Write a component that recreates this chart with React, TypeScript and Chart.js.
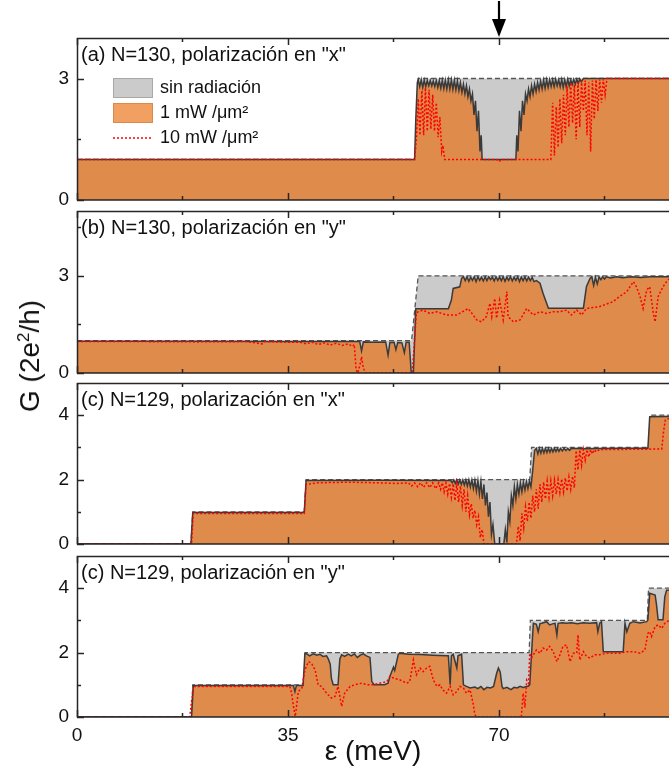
import React, { useEffect, useRef } from 'react';
import { Chart, registerables } from 'chart.js';
Chart.register(...registerables);

type Pt = [number, number];

// ---------------- data ----------------
const X_MAX = 98.2;
const xTickLabels = [0, 35, 70];
const xMajorTicks = [0, 35, 70];
const xMinorTicks = [17.5, 52.5, 87.5];
const xTitle = 'ε (meV)';
const seriesLabels = ['sin radiación', '1 mW /μm²', '10 mW /μm²'];
const panelTitles = [
  '(a) N=130, polarización en "x"',
  '(b) N=130, polarización en "y"',
  '(c) N=129, polarización en "x"',
  '(c) N=129, polarización en "y"',
];
const arrowAt = 70;

const yMaxA = 4, yMaxB = 5, yMaxC = 5, yMaxD = 5;
const yMajorA = [0, 3], yMinorA = [1.5];
const yMajorB = [0, 3], yMinorB = [1.5, 4.5];
const yMajorC = [0, 2, 4], yMinorC = [1, 3];
const yMajorD = [0, 2, 4], yMinorD = [1, 3];

// panel (a)
const aNoRad: Pt[] = [[0, 1], [56.1, 1], [56.6, 3], [98.2, 3]];
const aOneMW: Pt[] = [
  [0, 1], [56.0, 1], [56.2, 2.0], [56.45, 2.9],
  [56.6, 2.97], [56.85, 2.8], [57.1, 2.97], [57.35, 2.78], [57.6, 2.96], [57.85, 2.8], [58.1, 2.95], [58.35, 2.82],
  [58.6, 2.95], [58.85, 2.82], [59.1, 2.94], [59.35, 2.8], [59.6, 2.95], [59.85, 2.78], [60.1, 2.95], [60.35, 2.76],
  [60.6, 2.96], [60.85, 2.75], [61.1, 2.96], [61.35, 2.74], [61.6, 2.97], [61.85, 2.74], [62.1, 2.97], [62.35, 2.73],
  [62.6, 2.96], [62.85, 2.72], [63.1, 2.94], [63.35, 2.7], [63.6, 2.9], [63.85, 2.66],
  [64.1, 2.86], [64.35, 2.62], [64.6, 2.82], [64.85, 2.55], [65.1, 2.74], [65.35, 2.45], [65.6, 2.62], [65.85, 2.1],
  [66.1, 2.45], [66.35, 1.7], [66.6, 2.2], [66.85, 1.2], [67.05, 1.6], [67.2, 1.0],
  [72.8, 1.0], [72.95, 1.6], [73.15, 1.2], [73.4, 2.2], [73.65, 1.7], [73.9, 2.45], [74.15, 2.1], [74.4, 2.62],
  [74.65, 2.45], [74.9, 2.74], [75.15, 2.55], [75.4, 2.82], [75.65, 2.62], [75.9, 2.86], [76.15, 2.68], [76.4, 2.9],
  [76.65, 2.72], [76.9, 2.94], [77.15, 2.74], [77.4, 2.96], [77.65, 2.76], [77.9, 2.97], [78.15, 2.78], [78.4, 2.97],
  [78.65, 2.8], [78.9, 2.97], [79.15, 2.8], [79.4, 2.98], [79.65, 2.82], [79.9, 2.97], [80.15, 2.8], [80.4, 2.98],
  [80.65, 2.78], [80.9, 2.97], [81.15, 2.8], [81.4, 2.98], [81.65, 2.82], [81.9, 2.96], [82.15, 2.85], [82.4, 2.98],
  [82.65, 2.86], [82.9, 2.98], [83.15, 2.88], [83.4, 2.99], [83.65, 2.92], [84.0, 3.0], [98.2, 3.0],
];
const aTenMW: Pt[] = [
  [0, 1], [56.0, 1], [56.3, 1.5], [56.6, 2.5], [56.9, 1.6], [57.2, 2.7], [57.5, 1.6], [57.8, 2.77], [58.1, 1.7],
  [58.4, 2.72], [58.7, 1.75], [59.0, 2.6], [59.3, 1.7], [59.6, 2.4], [59.9, 1.55], [60.2, 2.05], [60.5, 1.2],
  [60.7, 1.35], [61.0, 1.0], [69.6, 1.0], [70.0, 0.95], [70.4, 1.0], [78.6, 1.0], [78.9, 2.4], [79.2, 1.1],
  [79.5, 2.3], [79.8, 1.3], [80.1, 2.5], [80.4, 1.4], [80.7, 2.6], [81.0, 1.6], [81.3, 2.8], [81.6, 1.8],
  [81.9, 2.9], [82.2, 1.9], [82.5, 2.85], [82.8, 1.5], [83.1, 2.9], [83.4, 1.8], [83.7, 2.95], [84.0, 2.2],
  [84.3, 2.95], [84.6, 1.6], [84.9, 2.9], [85.2, 1.2], [85.5, 2.95], [85.8, 2.0], [86.1, 2.97], [86.4, 2.2],
  [86.7, 2.98], [87.0, 2.4], [87.3, 2.98], [87.6, 2.6], [87.9, 3.0], [98.2, 3.0],
];

// panel (b)
const bNoRad: Pt[] = [[0, 1], [55.5, 1], [56.6, 3], [98.2, 3]];
const bOneMW: Pt[] = [
  [0, 0.98], [20, 0.98], [35, 0.97], [46.9, 0.97], [47.2, 0.68], [47.5, 0.96], [49, 0.95], [51.2, 0.96],
  [51.6, 0.55], [51.9, 0.94], [52.6, 0.95], [52.9, 0.72], [53.2, 0.94], [53.9, 0.93], [54.3, 0.63], [54.6, 0.95],
  [55.1, 0.95], [55.45, 0.0], [55.8, 0.0], [56.2, 1.98], [61.6, 1.98], [62.1, 2.25], [62.4, 2.61], [63.5, 2.66],
  [63.8, 2.92], [64.1, 2.97], [64.4, 2.85], [64.7, 2.97], [65.0, 2.83], [65.3, 2.96], [65.6, 2.86], [65.9, 2.97],
  [66.2, 2.82], [66.5, 2.97], [66.8, 2.86], [67.1, 2.96], [67.4, 2.84], [67.7, 2.97], [68.0, 2.85], [68.3, 2.97],
  [68.6, 2.88], [68.9, 2.96], [69.2, 2.84], [69.5, 2.97], [69.8, 2.86], [70.1, 2.96], [70.4, 2.85], [70.7, 2.97],
  [71.0, 2.83], [71.3, 2.96], [71.6, 2.86], [71.9, 2.97], [72.2, 2.84], [72.5, 2.96], [72.8, 2.86], [73.1, 2.97],
  [73.4, 2.82], [73.7, 2.96], [74.0, 2.85], [74.3, 2.97], [74.6, 2.84], [74.9, 2.96], [75.2, 2.85], [75.5, 2.95],
  [75.8, 2.82], [76.2, 2.85], [76.8, 2.77], [77.3, 2.46], [78.2, 2.0], [84.0, 2.0], [84.5, 2.66], [85.1, 2.92],
  [85.4, 2.97], [85.7, 2.7], [86.0, 2.95], [86.3, 2.75], [86.6, 2.96], [86.9, 2.88], [87.2, 2.97], [87.5, 2.9],
  [87.8, 2.97], [88.5, 2.93], [89.5, 2.97], [90.5, 2.94], [92.0, 2.97], [93.5, 2.95], [95.0, 2.97], [98.2, 2.97],
];
const bTenMW: Pt[] = [
  [0, 0.97], [10, 0.97], [20, 0.96], [28, 0.97], [30.7, 0.9], [31.2, 0.97], [35, 0.95], [37.0, 0.95], [38.0, 0.9],
  [39.0, 0.95], [40.0, 0.88], [41.0, 0.93], [42.0, 0.86], [43.0, 0.92], [44.0, 0.85], [45.0, 0.9], [45.7, 0.82],
  [46.0, 0.88], [46.3, 0.1], [46.6, 0.0], [47.0, 0.3], [47.2, 0.5], [47.5, 0.15], [47.9, 0.0], [55.6, 0.0],
  [56.3, 1.85], [56.6, 1.89], [57.4, 1.94], [58.5, 1.84], [59.7, 1.89], [61.3, 1.79], [63.0, 1.79], [64.9, 1.99],
  [66.3, 1.64], [67.1, 1.58], [67.9, 1.74], [68.5, 2.15], [68.8, 1.74], [69.3, 2.3], [69.6, 1.69], [70.1, 2.25],
  [70.7, 1.64], [71.3, 2.51], [71.5, 1.74], [72.4, 1.58], [73.5, 1.64], [74.6, 1.99], [75.7, 1.79], [76.8, 1.89],
  [77.9, 1.84], [79.0, 1.89], [80.1, 1.89], [81.2, 1.94], [82.0, 1.79], [82.9, 1.94], [83.7, 1.79], [84.5, 1.99],
  [86.7, 2.05], [88.9, 2.2], [90.0, 2.36], [91.2, 2.51], [92.3, 2.82], [92.8, 2.66], [93.4, 2.36], [93.9, 1.99],
  [94.5, 2.56], [95.0, 2.66], [95.6, 1.84], [95.9, 1.58], [96.4, 2.36], [97.2, 2.66], [97.8, 2.82], [98.2, 2.9],
];

// panel (c)
const cNoRad: Pt[] = [[0, 0], [18.9, 0], [19.2, 1], [37.7, 1], [38.0, 2], [75.1, 2], [75.4, 3], [94.8, 3], [95.1, 4], [98.2, 4]];
const cOneMW: Pt[] = [
  [0, 0], [18.9, 0], [19.2, 0.98], [37.7, 0.98], [38.0, 1.97], [50, 1.98], [62.0, 1.97],
  [62.25, 1.9], [62.5, 1.99], [62.75, 1.88], [63.0, 1.99], [63.25, 1.86], [63.5, 1.99], [63.75, 1.85], [64.0, 1.99],
  [64.25, 1.83], [64.5, 1.99], [64.75, 1.8], [65.0, 1.99], [65.25, 1.77], [65.5, 1.99], [65.75, 1.72], [66.0, 1.98],
  [66.25, 1.65], [66.5, 1.97], [66.75, 1.55], [67.0, 1.94], [67.25, 1.4], [67.5, 1.85], [67.75, 1.2], [68.0, 1.6],
  [68.25, 0.85], [68.5, 1.3], [68.75, 0.3], [69.0, 0.6], [69.3, 0.0], [70.8, 0.0], [71.05, 0.45], [71.3, 0.05],
  [71.55, 1.0], [71.8, 0.7], [72.05, 1.5], [72.3, 1.2], [72.55, 1.78], [72.8, 1.4], [73.05, 1.85], [73.3, 1.55],
  [73.55, 1.9], [73.8, 1.62], [74.05, 1.92], [74.3, 1.68], [74.55, 1.94], [74.8, 1.72], [75.05, 1.95], [75.3, 1.78],
  [75.6, 2.3], [75.9, 2.9], [76.2, 2.97], [76.45, 2.8], [76.7, 2.97], [76.95, 2.82], [77.2, 2.97], [77.45, 2.83],
  [77.7, 2.97], [77.95, 2.84], [78.2, 2.97], [78.45, 2.85], [78.7, 2.97], [78.95, 2.86], [79.2, 2.97], [79.45, 2.87],
  [79.7, 2.97], [79.95, 2.88], [80.2, 2.97], [80.5, 2.89], [80.8, 2.97], [81.1, 2.9], [81.4, 2.97], [81.7, 2.91],
  [82.0, 2.97], [84.0, 2.96], [90.0, 2.97], [94.7, 2.97], [95.0, 3.95], [98.2, 3.96],
];
const cTenMW: Pt[] = [
  [0, 0], [19.0, 0], [19.3, 0.95], [37.7, 0.95], [38.0, 1.85], [40, 1.9], [45, 1.92], [50, 1.9], [53, 1.88],
  [55, 1.9], [55.5, 1.8], [56, 1.9], [56.5, 1.78], [57, 1.9], [57.5, 1.76], [58, 1.9], [58.5, 1.75], [59, 1.9],
  [59.5, 1.72], [60.0, 1.9], [60.3, 1.7], [60.6, 1.9], [60.9, 1.62], [61.2, 1.89], [61.5, 1.55], [61.8, 1.88],
  [62.1, 1.45], [62.4, 1.87], [62.7, 1.35], [63.0, 1.86], [63.3, 1.3], [63.6, 1.8], [63.9, 1.2], [64.2, 1.7],
  [64.5, 1.0], [64.8, 1.5], [65.1, 0.9], [65.4, 1.25], [65.7, 0.8], [66.0, 1.05], [66.3, 0.6], [66.6, 0.85],
  [66.9, 0.2], [67.2, 0.45], [67.5, 0.0], [72.9, 0.0], [73.2, 0.55], [73.5, 0.1], [73.8, 0.95], [74.1, 0.5],
  [74.4, 1.15], [74.7, 0.7], [75.0, 1.3], [75.3, 0.8], [75.6, 1.5], [75.9, 1.0], [76.2, 1.7], [76.5, 1.1],
  [76.8, 1.85], [77.1, 1.3], [77.4, 1.92], [77.7, 1.4], [78.0, 1.95], [78.3, 1.45], [78.6, 1.96], [78.9, 1.5],
  [79.2, 1.98], [79.5, 1.55], [79.8, 2.0], [80.1, 1.6], [80.4, 2.02], [80.7, 1.62], [81.0, 2.05], [81.3, 1.65],
  [81.6, 2.08], [81.9, 1.7], [82.2, 2.1], [82.5, 1.75], [82.8, 2.9], [83.1, 2.3], [83.4, 2.92], [83.7, 2.45],
  [84.0, 2.93], [84.3, 2.6], [84.6, 2.93], [84.9, 2.7], [85.2, 2.93], [85.5, 2.8], [85.8, 2.93], [86.1, 2.86],
  [86.7, 2.93], [97.0, 2.95], [97.3, 3.5], [97.6, 3.85], [98.2, 3.9],
];

// panel (d)
const dNoRad: Pt[] = [[0, 0], [19.0, 0], [19.2, 1], [37.7, 1], [37.9, 2], [75.0, 2], [75.2, 3], [94.6, 3], [94.8, 4], [98.2, 4]];
const dOneMW: Pt[] = [
  [0, 0], [19.0, 0], [19.3, 0.98], [30, 0.98], [35.9, 0.98], [36.15, 0.79], [36.4, 0.98], [37.5, 0.98],
  [37.8, 1.98], [38.1, 1.96], [38.6, 1.9], [39.2, 1.96], [39.8, 1.92], [40.3, 1.95], [40.8, 1.88], [41.4, 1.9],
  [41.7, 1.8], [42.0, 1.64], [42.2, 1.2], [42.5, 1.0], [43.3, 1.0], [43.6, 1.8], [43.9, 1.93], [44.4, 1.88],
  [45.0, 1.95], [45.5, 1.9], [46.0, 1.96], [46.5, 1.85], [47.0, 1.92], [47.5, 1.96], [48.0, 1.9], [48.6, 1.85],
  [48.9, 1.1], [49.3, 1.0], [51.0, 1.0], [51.6, 1.05], [51.9, 1.26], [52.5, 1.55], [52.7, 1.45], [53.3, 1.95],
  [53.6, 1.98], [55, 1.95], [57, 1.94], [59, 1.92], [61.3, 1.9], [61.6, 1.9], [61.9, 1.0], [62.1, 1.9],
  [62.4, 1.95], [63.0, 1.52], [63.2, 1.9], [63.8, 1.95], [64.1, 1.0], [64.6, 0.95], [65.2, 0.9], [66, 0.93],
  [66.5, 0.88], [67, 0.95], [67.5, 0.85], [68, 0.92], [68.6, 0.9], [69.1, 0.95], [69.6, 1.35], [69.9, 1.52],
  [70.2, 1.4], [70.5, 0.95], [70.7, 0.88], [71.3, 0.92], [72, 0.85], [72.5, 0.92], [73, 0.9], [73.5, 0.95],
  [74.0, 0.92], [74.9, 0.96], [75.1, 1.0], [75.4, 1.98], [75.7, 2.91], [76.2, 2.88], [76.5, 2.65], [76.8, 2.9],
  [77.1, 2.91], [77.9, 2.96], [78.4, 2.86], [79.0, 2.9], [79.3, 2.91], [79.6, 2.55], [79.8, 2.91], [80.5, 2.93],
  [81.2, 2.91], [82, 2.93], [83, 2.9], [84, 2.93], [85, 2.91], [86.2, 2.93], [86.4, 2.65], [86.7, 2.91],
  [87.0, 2.96], [87.3, 2.03], [90.6, 2.03], [90.9, 2.91], [91.2, 2.65], [91.7, 2.91], [92.3, 2.96], [93.4, 2.92],
  [94.5, 2.96], [94.7, 3.01], [95.0, 3.84], [95.9, 3.79], [96.1, 3.53], [96.4, 3.02], [97.2, 3.02], [97.5, 3.73],
  [97.8, 3.94], [98.2, 3.94],
];
const dTenMW: Pt[] = [
  [0, 0], [18.7, 0], [19.3, 0.95], [30, 0.95], [35.3, 0.95], [35.6, 0.74], [35.9, 0.33], [36.2, 0.02],
  [36.4, 0.3], [36.7, 0.79], [37.3, 0.9], [37.8, 1.46], [38.4, 1.72], [38.9, 1.67], [39.5, 1.46], [40.0, 1.0],
  [40.6, 0.94], [41.4, 0.74], [42.2, 0.59], [42.8, 0.64], [43.3, 0.95], [43.9, 0.33], [44.4, 0.74], [45.3, 0.95],
  [46.1, 1.0], [47.2, 1.05], [48.3, 1.0], [49.1, 1.0], [50.2, 1.05], [51.4, 1.1], [51.9, 1.26], [52.5, 1.21],
  [53.6, 1.15], [54.7, 1.05], [55.2, 1.1], [55.8, 1.77], [56.3, 1.31], [56.9, 1.52], [57.4, 1.41], [58.0, 1.52],
  [58.5, 1.57], [59.1, 1.15], [59.7, 0.95], [60.2, 1.0], [60.7, 0.84], [61.3, 0.74], [61.9, 0.95], [62.4, 0.69],
  [63.0, 0.79], [63.5, 0.95], [64.1, 0.9], [64.6, 0.74], [65.2, 0.84], [65.7, 0.43], [66.0, 0.07], [66.3, 0.0],
  [73.7, 0.0], [74.0, 0.74], [74.3, 0.3], [74.6, 1.15], [74.9, 1.05], [75.1, 1.98], [75.4, 1.83], [75.7, 1.93],
  [76.2, 2.08], [76.8, 1.98], [77.3, 2.14], [77.9, 2.08], [78.4, 2.19], [79.0, 2.03], [79.6, 1.72], [80.1, 1.93],
  [80.6, 2.19], [81.2, 2.24], [81.8, 1.72], [82.3, 1.98], [82.9, 1.98], [83.1, 2.55], [83.4, 1.77], [84.0, 2.03],
  [84.5, 1.88], [85.1, 1.83], [85.9, 1.93], [86.7, 1.93], [87.8, 1.98], [88.9, 1.98], [90.0, 1.98], [91.2, 2.03],
  [92.3, 2.03], [93.4, 1.98], [94.2, 2.08], [94.7, 2.6], [95.0, 2.65], [95.3, 2.5], [95.9, 2.81], [96.4, 2.86],
  [97.0, 2.75], [97.5, 2.91], [98.2, 3.0],
];

// ---------------- styling / layout ----------------
const FONT = "'Liberation Sans', Arial, sans-serif";
const GREY = '#CBCBCB';
const ORANGE = '#DF8B4B';
const ORANGE_LEGEND = '#F2A062';
const LINE_DARK = '#3a3a3a';
const RED = '#FF0000';
const AXIS = '#262626';
const LEFT = 77;

type PanelCfg = {
  top: number; height: number; padTop: number; xAxisH: number;
  yMax: number; yMajor: number[]; yMinor: number[];
  noRad: Pt[]; oneMW: Pt[]; tenMW: Pt[]; title: string;
  legend: boolean; arrow: boolean; bottomLabels: boolean;
};

const panels: PanelCfg[] = [
  { top: 0, height: 215, padTop: 38, xAxisH: 15, yMax: yMaxA, yMajor: yMajorA, yMinor: yMinorA, noRad: aNoRad, oneMW: aOneMW, tenMW: aTenMW, title: panelTitles[0], legend: true, arrow: true, bottomLabels: false },
  { top: 203, height: 185, padTop: 8, xAxisH: 15, yMax: yMaxB, yMajor: yMajorB, yMinor: yMinorB, noRad: bNoRad, oneMW: bOneMW, tenMW: bTenMW, title: panelTitles[1], legend: false, arrow: false, bottomLabels: false },
  { top: 375, height: 184, padTop: 8, xAxisH: 15, yMax: yMaxC, yMajor: yMajorC, yMinor: yMinorC, noRad: cNoRad, oneMW: cOneMW, tenMW: cTenMW, title: panelTitles[2], legend: false, arrow: false, bottomLabels: false },
  { top: 548, height: 222, padTop: 8, xAxisH: 53, yMax: yMaxD, yMajor: yMajorD, yMinor: yMinorD, noRad: dNoRad, oneMW: dOneMW, tenMW: dTenMW, title: panelTitles[3], legend: false, arrow: false, bottomLabels: true },
];

const toXY = (pts: Pt[]) => pts.map(([x, y]) => ({ x, y }));

function Panel({ cfg, idx }: { cfg: PanelCfg; idx: number }) {
  const ref = useRef<HTMLCanvasElement>(null);
  useEffect(() => {
    const framePlugin = {
      id: 'frame' + idx,
      afterDatasetsDraw(chart: any) {
        const { ctx, chartArea, scales } = chart;
        const { left, right, top, bottom } = chartArea;
        const xs = scales.x, ys = scales.y;
        ctx.save();
        ctx.strokeStyle = AXIS;
        ctx.lineWidth = 1.5;
        // ticks
        ctx.beginPath();
        for (const v of cfg.yMajor) { const p = Math.round(ys.getPixelForValue(v)) + 0.5; ctx.moveTo(left, p); ctx.lineTo(left + 7, p); }
        for (const v of cfg.yMinor) { const p = Math.round(ys.getPixelForValue(v)) + 0.5; ctx.moveTo(left, p); ctx.lineTo(left + 4, p); }
        for (const v of xMajorTicks) { const p = Math.round(xs.getPixelForValue(v)) + 0.5; ctx.moveTo(p, top); ctx.lineTo(p, top + 7); ctx.moveTo(p, bottom); ctx.lineTo(p, bottom - 7); }
        for (const v of xMinorTicks) { const p = Math.round(xs.getPixelForValue(v)) + 0.5; ctx.moveTo(p, top); ctx.lineTo(p, top + 4); ctx.moveTo(p, bottom); ctx.lineTo(p, bottom - 4); }
        ctx.stroke();
        // frame
        ctx.beginPath();
        ctx.moveTo(right + 5, top + 0.5); ctx.lineTo(left + 0.5, top + 0.5); ctx.lineTo(left + 0.5, bottom); ctx.lineTo(right + 5, bottom);
        ctx.stroke();
        // panel title
        ctx.fillStyle = '#111';
        ctx.font = `20px ${FONT}`;
        ctx.textBaseline = 'middle';
        ctx.textAlign = 'left';
        ctx.fillText(cfg.title, left + 4, top + 17);
        // legend
        if (cfg.legend) {
          const bx = left + 36, bw = 40, bh = 20;
          const rows = [top + 50, top + 75, top + 100];
          ctx.fillStyle = GREY; ctx.fillRect(bx, rows[0] - bh / 2, bw, bh);
          ctx.strokeStyle = '#a8a8a8'; ctx.lineWidth = 1; ctx.strokeRect(bx + 0.5, rows[0] - bh / 2 + 0.5, bw - 1, bh - 1);
          ctx.fillStyle = ORANGE_LEGEND; ctx.fillRect(bx, rows[1] - bh / 2, bw, bh);
          ctx.strokeStyle = '#d98a4c'; ctx.strokeRect(bx + 0.5, rows[1] - bh / 2 + 0.5, bw - 1, bh - 1);
          ctx.strokeStyle = RED; ctx.lineWidth = 1.6; ctx.setLineDash([2, 2]);
          ctx.beginPath(); ctx.moveTo(bx, rows[2]); ctx.lineTo(bx + bw, rows[2]); ctx.stroke();
          ctx.setLineDash([]);
          ctx.fillStyle = '#111';
          ctx.font = `18px ${FONT}`;
          seriesLabels.forEach((t, i) => ctx.fillText(t, bx + bw + 7, rows[i]));
        }
        // arrow
        if (cfg.arrow) {
          const ax = xs.getPixelForValue(arrowAt);
          ctx.strokeStyle = '#000'; ctx.fillStyle = '#000'; ctx.lineWidth = 2.2;
          ctx.beginPath(); ctx.moveTo(ax, 1); ctx.lineTo(ax, top - 14); ctx.stroke();
          ctx.beginPath(); ctx.moveTo(ax - 7, top - 19); ctx.lineTo(ax + 7, top - 19); ctx.lineTo(ax, top - 1); ctx.closePath(); ctx.fill();
        }
        ctx.restore();
      },
    };

    const chart = new Chart(ref.current as HTMLCanvasElement, {
      type: 'line',
      data: {
        datasets: [
          { label: seriesLabels[0], data: toXY(cfg.noRad), borderColor: '#555555', borderWidth: 1.3, borderDash: [5, 3], backgroundColor: GREY, fill: 'origin', pointRadius: 0, tension: 0, order: 3 },
          { label: seriesLabels[1], data: toXY(cfg.oneMW), borderColor: LINE_DARK, borderWidth: 1.5, backgroundColor: ORANGE, fill: 'origin', pointRadius: 0, tension: 0, order: 2 },
          { label: seriesLabels[2], data: toXY(cfg.tenMW), borderColor: RED, borderWidth: 1.5, borderDash: [2, 2], fill: false, pointRadius: 0, tension: 0, order: 1 },
        ] as any,
      },
      options: {
        responsive: false,
        maintainAspectRatio: false,
        animation: false,
        layout: { padding: { top: cfg.padTop, left: 0, right: 0, bottom: 0 } },
        plugins: { legend: { display: false }, tooltip: { enabled: false } },
        scales: {
          x: {
            type: 'linear', min: 0, max: X_MAX,
            grid: { display: false, drawTicks: false }, border: { display: false },
            ticks: { display: cfg.bottomLabels, font: { family: FONT, size: 19 }, color: '#111', padding: 7, autoSkip: false, maxRotation: 0 },
            title: { display: cfg.bottomLabels, text: xTitle, font: { family: FONT, size: 28 }, color: '#111', padding: { top: 0, bottom: 1 } },
            afterBuildTicks: (s: any) => { s.ticks = xTickLabels.map((v) => ({ value: v })); },
            afterFit: (s: any) => { s.height = cfg.xAxisH; s.paddingLeft = 0; s.paddingRight = 0; },
          },
          y: {
            type: 'linear', min: 0, max: cfg.yMax,
            grid: { display: false, drawTicks: false }, border: { display: false },
            ticks: { font: { family: FONT, size: 19 }, color: '#111', padding: 8 },
            afterBuildTicks: (s: any) => { s.ticks = cfg.yMajor.map((v) => ({ value: v })); },
            afterFit: (s: any) => { s.width = LEFT; s.paddingTop = 0; s.paddingBottom = 0; },
          },
        },
      } as any,
      plugins: [framePlugin],
    });
    return () => chart.destroy();
  }, []);
  return (
    <canvas
      ref={ref}
      width={669}
      height={cfg.height}
      style={{ position: 'absolute', left: 0, top: cfg.top, width: 669, height: cfg.height }}
    />
  );
}

export default function App() {
  return (
    <div style={{ position: 'fixed', left: 0, top: 0, width: 669, height: 770, overflow: 'hidden', background: '#fff' }}>
      {panels.map((p, i) => <Panel key={i} cfg={p} idx={i} />)}
      <div
        style={{
          position: 'absolute', left: 30, top: 356,
          transform: 'translate(-50%, -50%) rotate(-90deg)',
          font: `28px ${FONT}`, color: '#111', whiteSpace: 'nowrap', lineHeight: '32px',
        }}
      >
        G (2e<sup style={{ fontSize: '17px', verticalAlign: 'top', lineHeight: '20px' }}>2</sup>/h)
      </div>
    </div>
  );
}
